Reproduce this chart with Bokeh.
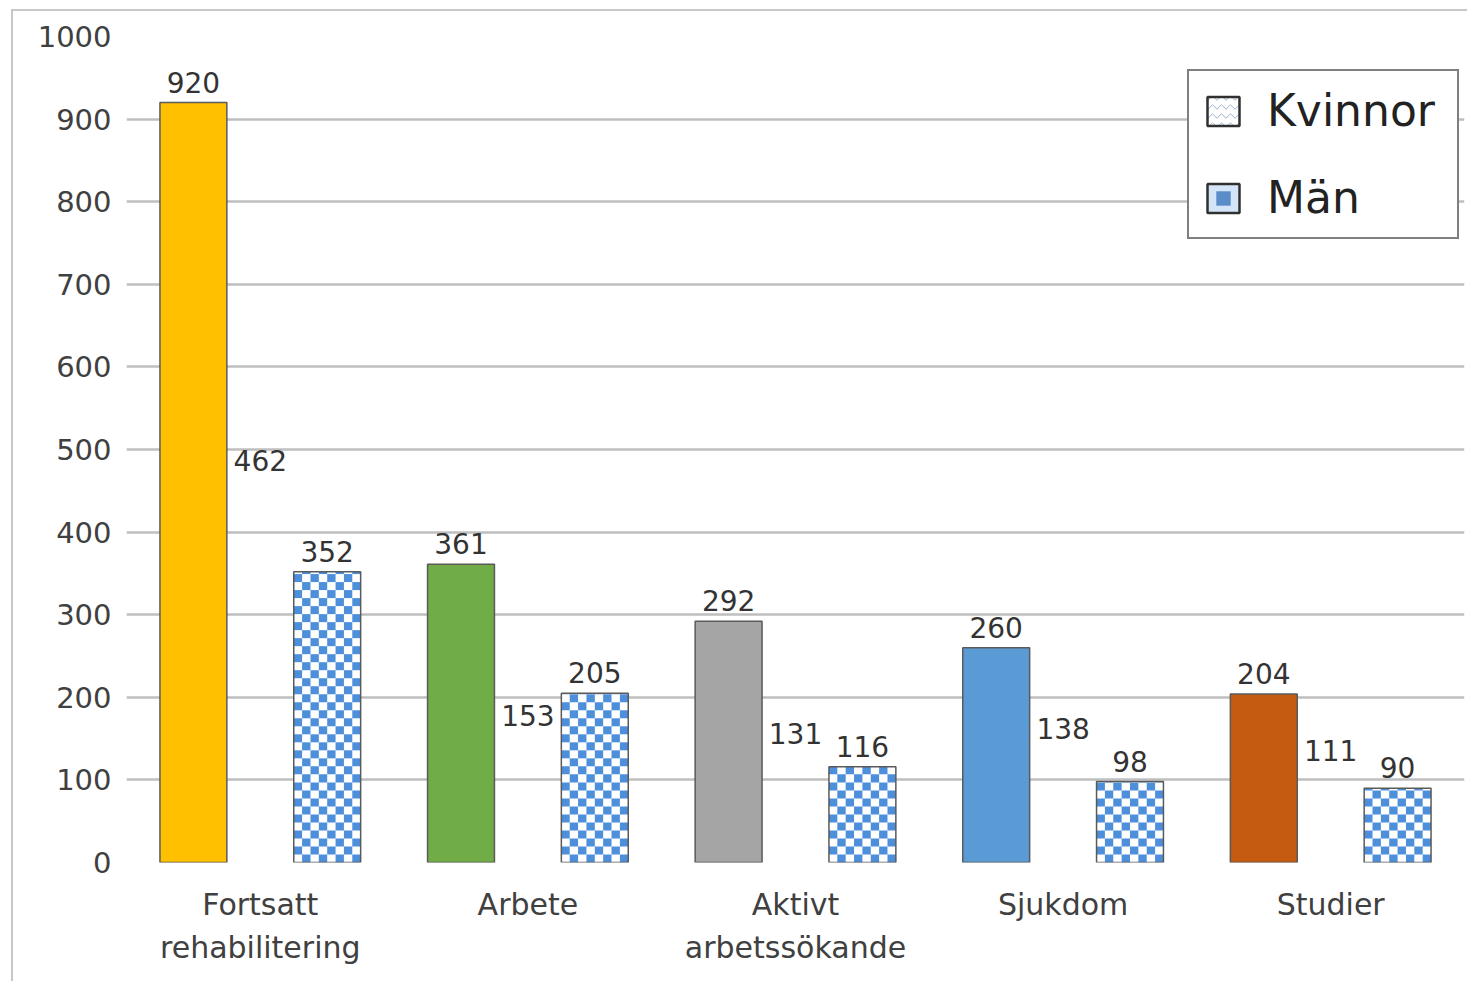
import math
from bokeh.plotting import figure
from bokeh.models import (ColumnDataSource, Range1d, FactorRange, Legend, LegendItem,
                          FixedTicker)
from bokeh.transform import dodge
from bokeh.core.properties import value
from bokeh.embed import file_html
from bokeh.resources import INLINE

# ---- data ----
categories = ["Fortsatt\nrehabilitering", "Arbete", "Aktivt\narbetssökande", "Sjukdom", "Studier"]
totalt = [920, 361, 292, 260, 204]
kvinnor = [462, 153, 131, 138, 111]
man = [352, 205, 116, 98, 90]
y_ticks = [0, 100, 200, 300, 400, 500, 600, 700, 800, 900, 1000]
series_names = ["Kvinnor", "Män"]

# ---- styles ----
bar_colors = ["#FFC000", "#70AD47", "#A5A5A5", "#5B9BD5", "#C55A11"]
FONT = "DejaVu Sans"
TXT = "#333333"
W = 0.25            # bar width (category units)
OFFS = [-0.25, 0.0, 0.25]
N_COLS = 8          # checker columns per bar
CELL_Y = 9.7        # checker row height (value units)
BLUE = "#4d8fdb"

src = ColumnDataSource(dict(
    cat=categories, totalt=totalt, kvinnor=kvinnor, man=man, color=bar_colors,
    totalt_lbl=[str(v) for v in totalt],
    kvinnor_lbl=[str(v) for v in kvinnor],
    man_lbl=[str(v) for v in man],
))

p = figure(x_range=FactorRange(factors=categories, range_padding=0),
           y_range=Range1d(0, 1000),
           width=1456, height=972, output_backend="svg", toolbar_location=None,
           min_border_left=113, min_border_right=5, min_border_top=25, min_border_bottom=121,
           styles={"border-left": "2px solid #c8c8c8", "border-top": "2px solid #c8c8c8",
                   "margin-left": "11px", "margin-top": "9px"})

# total bars
p.vbar(x=dodge("cat", OFFS[0], range=p.x_range), top="totalt", width=W, source=src,
       fill_color="color", line_color="#5a5a5a", line_width=1.5)
# Kvinnor bars (invisible, label only)
p.vbar(x=dodge("cat", OFFS[1], range=p.x_range), top="kvinnor", width=W, source=src,
       fill_alpha=0, line_alpha=0)
# Män bars: white base
p.vbar(x=dodge("cat", OFFS[2], range=p.x_range), top="man", width=W, source=src,
       fill_color="white", line_color=None)

# checker cells for Män bars, derived from the values
cl, cr, cb, ct = [], [], [], []
cw = W / N_COLS
for i, v in enumerate(man):
    x0 = i + 0.5 + OFFS[2] - W / 2
    nrows = int(math.ceil(v / CELL_Y))
    for r in range(nrows):
        b = r * CELL_Y
        t = min(v, (r + 1) * CELL_Y)
        for c in range(N_COLS):
            if (r + c) % 2 == 1:
                cl.append(x0 + c * cw)
                cr.append(x0 + (c + 1) * cw)
                cb.append(b)
                ct.append(t)
cells = ColumnDataSource(dict(left=cl, right=cr, bottom=cb, top=ct))
p.quad(left="left", right="right", bottom="bottom", top="top", source=cells,
       fill_color=BLUE, line_color=None)
# Män outlines on top
p.vbar(x=dodge("cat", OFFS[2], range=p.x_range), top="man", width=W, source=src,
       fill_color=None, line_color="#5a5a5a", line_width=1.5)

for off, col in zip(OFFS, ["totalt", "kvinnor", "man"]):
    p.text(x=dodge("cat", off, range=p.x_range), y=col, text=col + "_lbl", source=src,
           text_align="center", text_baseline="bottom", y_offset=-10,
           text_font=value(FONT), text_font_size="28px", text_color=TXT)

# legend swatch renderers (no visible marks: NaN coordinates)
nan_src = ColumnDataSource(dict(l=[float("nan")], r=[float("nan")], b=[float("nan")],
                                t=[float("nan")], x=[float("nan")], y=[float("nan")]))
rk = p.quad(left="l", right="r", bottom="b", top="t", source=nan_src,
            fill_color="white", line_color="#303030", line_width=2.5,
            hatch_pattern="horizontal_wave", hatch_color="#6f8fb8", hatch_alpha=0.7,
            hatch_scale=9, hatch_weight=1)
rm1 = p.quad(left="l", right="r", bottom="b", top="t", source=nan_src,
             fill_color="#d4e5f7", line_color="#303030", line_width=2.5)
rm2 = p.scatter(x="x", y="y", source=nan_src, marker="square",
                fill_color="#5a8cc8", line_color=None)

legend = Legend(items=[LegendItem(label=series_names[0], renderers=[rk]),
                       LegendItem(label=series_names[1], renderers=[rm1, rm2])],
                location=(1061, 623), padding=14, spacing=36, margin=0,
                glyph_width=40, glyph_height=36, label_width=176,
                label_standoff=24,
                label_text_font=FONT, label_text_font_size="44px", label_text_color="#222222",
                border_line_color="black", border_line_width=2,
                background_fill_color="white", background_fill_alpha=1)
p.add_layout(legend)

# axes
p.yaxis.ticker = FixedTicker(ticks=y_ticks)
p.yaxis.axis_line_color = None
p.yaxis.major_tick_line_color = None
p.yaxis.minor_tick_line_color = None
p.yaxis.major_tick_out = 0
p.yaxis.major_tick_in = 0
p.yaxis.major_label_standoff = 15
p.yaxis.major_label_text_font = FONT
p.yaxis.major_label_text_font_size = "29px"
p.yaxis.major_label_text_color = "#404040"

p.xaxis.axis_line_color = None
p.xaxis.major_tick_line_color = None
p.xaxis.major_tick_out = 0
p.xaxis.major_tick_in = 0
p.xaxis.major_label_standoff = 24
p.xaxis.major_label_text_font = FONT
p.xaxis.major_label_text_font_size = "30px"
p.xaxis.major_label_text_color = "#404040"
p.xaxis.major_label_text_line_height = 1.23

p.xgrid.grid_line_color = None
p.ygrid.grid_line_color = "#bfbfbf"
p.ygrid.grid_line_width = 2.5
p.outline_line_color = None
p.background_fill_color = "white"
p.border_fill_color = "white"

open("out.html", "w").write(file_html(p, INLINE))
